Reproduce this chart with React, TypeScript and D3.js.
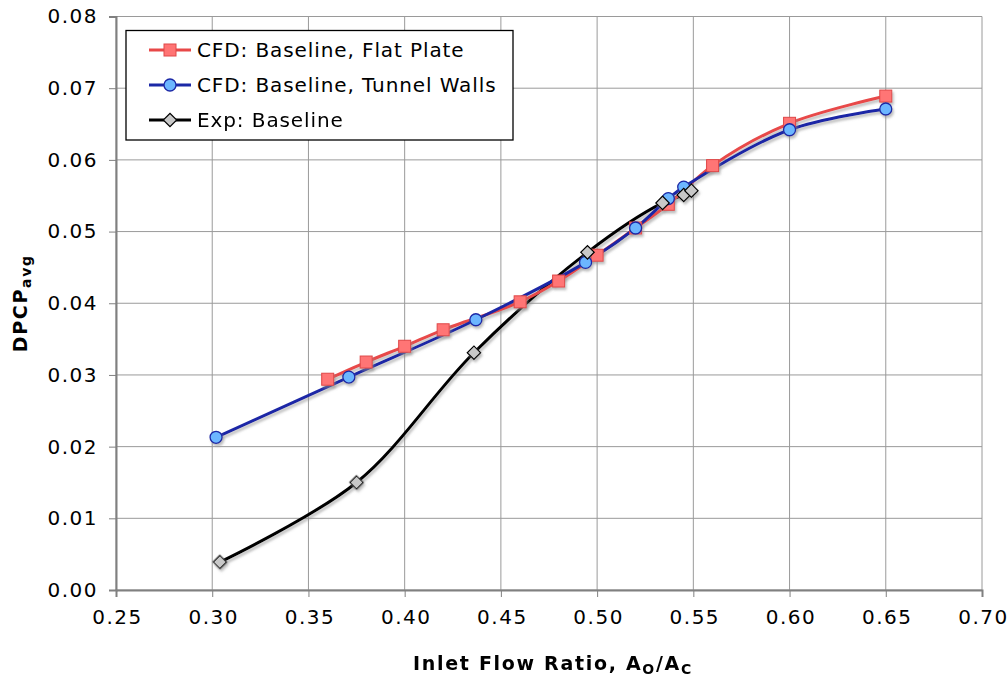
import React, { useRef, useEffect } from "react";
import * as d3 from "d3";

// series
const flatPlateX = [0.36, 0.38, 0.40, 0.42, 0.46, 0.48, 0.50, 0.52, 0.537, 0.56, 0.60, 0.65];
const flatPlateY = [0.0294, 0.0318, 0.0340, 0.0363, 0.0402, 0.0431, 0.0467, 0.0505, 0.0538, 0.0592, 0.0651, 0.0689];

const tunnelWallsX = [0.302, 0.371, 0.437, 0.494, 0.52, 0.537, 0.545, 0.60, 0.65];
const tunnelWallsY = [0.0213, 0.0297, 0.0377, 0.0457, 0.0505, 0.0546, 0.0562, 0.0642, 0.0671];

const expX = [0.304, 0.375, 0.436, 0.495, 0.534, 0.545, 0.549];
const expY = [0.0039, 0.0150, 0.0331, 0.0471, 0.0540, 0.0551, 0.0557];

const xTicks = [0.25, 0.3, 0.35, 0.4, 0.45, 0.5, 0.55, 0.6, 0.65, 0.7];
const yTicks = [0, 0.01, 0.02, 0.03, 0.04, 0.05, 0.06, 0.07, 0.08];

const legendLabels = [
  "CFD: Baseline, Flat Plate",
  "CFD: Baseline, Tunnel Walls",
  "Exp: Baseline",
];

const App = () => {
  const svgRef = useRef<SVGSVGElement>(null);

  useEffect(() => {
    const svg = d3.select(svgRef.current);
    svg.selectAll("*").remove();

    const width = 1008;
    const height = 683;
    const margin = { top: 16.5, left: 116, right: 26, bottom: 93 };
    const font = "DejaVu Sans, Verdana, sans-serif";

    const x = d3.scaleLinear().domain([0.25, 0.7]).range([margin.left, width - margin.right]);
    const y = d3.scaleLinear().domain([0, 0.08]).range([height - margin.bottom, margin.top]);

    svg.attr("width", width).attr("height", height);

    const defs = svg.append("defs");
    const filter = defs
      .append("filter")
      .attr("id", "shadow")
      .attr("x", "-10%")
      .attr("y", "-10%")
      .attr("width", "130%")
      .attr("height", "130%");
    filter
      .append("feDropShadow")
      .attr("dx", 1.5)
      .attr("dy", 2.5)
      .attr("stdDeviation", 1)
      .attr("flood-color", "#888")
      .attr("flood-opacity", 0.55);

    svg.append("rect").attr("width", width).attr("height", height).attr("fill", "white");

    // grid
    const grid = svg.append("g");
    grid
      .selectAll("line.v")
      .data(xTicks)
      .enter()
      .append("line")
      .attr("x1", (d) => x(d))
      .attr("x2", (d) => x(d))
      .attr("y1", y(0.08))
      .attr("y2", y(0))
      .attr("stroke", "#9a9a9a")
      .attr("stroke-width", 1);
    grid
      .selectAll("line.h")
      .data(yTicks)
      .enter()
      .append("line")
      .attr("x1", x(0.25))
      .attr("x2", x(0.7))
      .attr("y1", (d) => y(d))
      .attr("y2", (d) => y(d))
      .attr("stroke", "#9a9a9a")
      .attr("stroke-width", 1);

    // axes
    const xAxis = svg
      .append("g")
      .attr("transform", `translate(0,${y(0)})`)
      .call(
        d3
          .axisBottom(x)
          .tickValues(xTicks)
          .tickSize(7)
          .tickPadding(13)
          .tickFormat(d3.format(".2f"))
      );
    const yAxis = svg
      .append("g")
      .attr("transform", `translate(${x(0.25)},0)`)
      .call(
        d3
          .axisLeft(y)
          .tickValues(yTicks)
          .tickSize(7)
          .tickPadding(12)
          .tickFormat(d3.format(".2f"))
      );
    [xAxis, yAxis].forEach((ax) => {
      ax.select(".domain").attr("stroke", "#808080").attr("stroke-width", 2);
      ax.selectAll(".tick line").attr("stroke", "#808080");
      ax.selectAll(".tick text")
        .attr("font-family", font)
        .attr("font-size", 20)
        .attr("letter-spacing", 1.5)
        .attr("fill", "#000");
    });
    xAxis.selectAll(".tick text").attr("dx", 1);
    yAxis.selectAll(".tick text").attr("dx", 1);

    // lines
    const line = d3
      .line<[number, number]>()
      .x((d) => x(d[0]))
      .y((d) => y(d[1]))
      .curve(d3.curveCatmullRom.alpha(0.5));

    const series = [
      { xs: flatPlateX, ys: flatPlateY, stroke: "#e84848", fill: "#ff7474", mStroke: "#e04848", shape: "square" },
      { xs: tunnelWallsX, ys: tunnelWallsY, stroke: "#1b28a6", fill: "#6cb6ff", mStroke: "#1b28a6", shape: "circle" },
      { xs: expX, ys: expY, stroke: "#000", fill: "#c8c8c8", mStroke: "#000", shape: "diamond" },
    ];

    const lineOrder = [2, 0, 1];
    const lines = svg.append("g").attr("filter", "url(#shadow)");
    lineOrder.forEach((i) => {
      const s = series[i];
      lines
        .append("path")
        .datum(s.xs.map((v, j) => [v, s.ys[j]] as [number, number]))
        .attr("d", line)
        .attr("fill", "none")
        .attr("stroke", s.stroke)
        .attr("stroke-width", 3);
    });

    const drawMarker = (g, shape, cx, cy, fill, stroke) => {
      if (shape === "square") {
        g.append("rect")
          .attr("x", cx - 6)
          .attr("y", cy - 6)
          .attr("width", 12)
          .attr("height", 12)
          .attr("fill", fill)
          .attr("stroke", stroke)
          .attr("stroke-width", 1);
      } else if (shape === "circle") {
        g.append("circle")
          .attr("cx", cx)
          .attr("cy", cy)
          .attr("r", 6)
          .attr("fill", fill)
          .attr("stroke", stroke)
          .attr("stroke-width", 1.3);
      } else {
        g.append("path")
          .attr("d", d3.symbol(d3.symbolSquare, 90)())
          .attr("transform", `translate(${cx},${cy}) rotate(45)`)
          .attr("fill", fill)
          .attr("stroke", stroke)
          .attr("stroke-width", 1.2);
      }
    };

    const markers = svg.append("g").attr("filter", "url(#shadow)");
    series.forEach((s) => {
      s.xs.forEach((v, j) => drawMarker(markers, s.shape, x(v), y(s.ys[j]), s.fill, s.mStroke));
    });

    // legend
    const legend = svg.append("g");
    legend
      .append("rect")
      .attr("x", 126)
      .attr("y", 30.5)
      .attr("width", 387)
      .attr("height", 109.5)
      .attr("fill", "white")
      .attr("stroke", "#000")
      .attr("stroke-width", 1.3);
    series.forEach((s, i) => {
      const cy = 50 + i * 35;
      legend
        .append("line")
        .attr("x1", 149)
        .attr("x2", 191)
        .attr("y1", cy)
        .attr("y2", cy)
        .attr("stroke", s.stroke)
        .attr("stroke-width", 3);
      drawMarker(legend, s.shape, 170, cy, s.fill, s.mStroke);
      legend
        .append("text")
        .attr("x", 197)
        .attr("y", cy)
        .attr("dy", "0.36em")
        .attr("font-family", font)
        .attr("font-size", 20)
        .attr("letter-spacing", 0.9)
        .text(legendLabels[i]);
    });

    // axis titles
    const xTitle = svg
      .append("text")
      .attr("x", (x(0.25) + x(0.7)) / 2 + 4)
      .attr("y", 670)
      .attr("text-anchor", "middle")
      .attr("font-family", font)
      .attr("font-size", 19)
      .attr("letter-spacing", 1.7)
      .attr("font-weight", "bold");
    xTitle.append("tspan").text("Inlet Flow Ratio, A");
    xTitle.append("tspan").attr("font-size", 14).attr("dy", 4).text("O");
    xTitle.append("tspan").attr("dy", -4).text("/A");
    xTitle.append("tspan").attr("font-size", 14).attr("dy", 4).text("C");

    const yTitle = svg
      .append("text")
      .attr("transform", `translate(27,${(y(0) + y(0.08)) / 2}) rotate(-90)`)
      .attr("text-anchor", "middle")
      .attr("font-family", font)
      .attr("font-size", 19)
      .attr("letter-spacing", 1.7)
      .attr("font-weight", "bold");
    yTitle.append("tspan").text("DPCP");
    yTitle.append("tspan").attr("font-size", 14).attr("dy", 4).text("avg");
  }, []);

  return (
    <svg
      ref={svgRef}
      style={{ position: "absolute", left: 0, top: 0, display: "block" }}
    ></svg>
  );
};

export default App;
